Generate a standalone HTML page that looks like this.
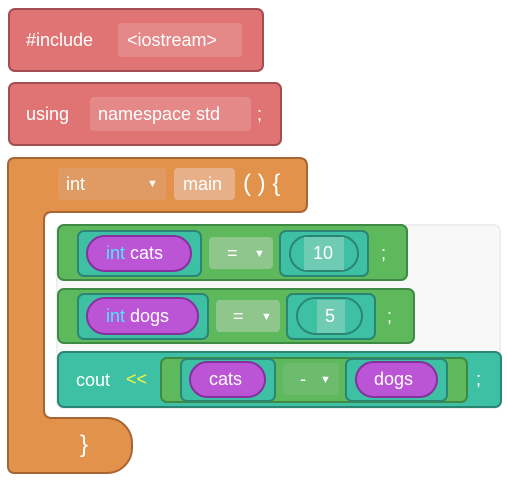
<!DOCTYPE html>
<html><head><meta charset="utf-8"><style>
body{margin:0;width:507px;height:480px;background:#fff;position:relative;overflow:hidden;font-family:"Liberation Sans",sans-serif;}
.b{position:absolute;box-sizing:border-box;}
.t{position:absolute;color:#fff;font-size:18px;line-height:20px;white-space:nowrap;}
.red{background:#e07474;border:2px solid #a24d4f;border-radius:7px;}
.rf{background:#e48888;border-radius:4px;}
.grn{background:#5db95c;border:2px solid #3e8a45;border-radius:7px;}
.tl{background:#3ec0a4;border:2px solid #2b8573;border-radius:7px;}
.pur{background:#bb55d6;border:2px solid #86309d;border-radius:20px;}
.dd{background:#8fc68c;border-radius:4px;}
.ov{border:2px solid #2b8573;border-radius:20px;}
</style></head><body>
<div class="b red" style="left:8px;top:8px;width:256px;height:64px;"></div>
<div class="t" style="left:26px;top:30px;">#include</div>
<div class="b rf" style="left:118px;top:23px;width:124px;height:34px;"></div>
<div class="t" style="left:127px;top:30px;">&lt;iostream&gt;</div>

<div class="b red" style="left:8px;top:82px;width:274px;height:64px;"></div>
<div class="t" style="left:26px;top:104px;">using</div>
<div class="b rf" style="left:90px;top:97px;width:161px;height:34px;"></div>
<div class="t" style="left:98px;top:104px;">namespace std</div>
<div class="t" style="left:257px;top:104px;">;</div>

<svg class="b" style="left:0;top:0" width="507" height="480">
<rect x="57" y="225" width="443" height="183" rx="6" fill="#f8f8f8" stroke="#eeeeee" stroke-width="2"/>
<path d="M15,158 H299 Q307,158 307,166 V204 Q307,212 299,212 H52 Q44,212 44,220 V410 Q44,418 52,418 H107 A25,25 0 0 1 132,443 V448 A25,25 0 0 1 107,473 H15 Q8,473 8,466 V165 Q8,158 15,158 Z" fill="#e2924a" stroke="#a66532" stroke-width="2"/>
</svg>
<div class="b" style="left:58px;top:168px;width:108px;height:32px;background:#e09a63;border-radius:4px;"></div>
<div class="t" style="left:66px;top:174px;">int</div>
<div class="t" style="left:147px;top:174px;font-size:11px;">▼</div>
<div class="b" style="left:174px;top:168px;width:61px;height:32px;background:#e8b088;border-radius:4px;"></div>
<div class="t" style="left:183px;top:174px;">main</div>
<div class="t" style="left:243px;top:171px;font-size:24px;line-height:26px;">( ) {</div>
<div class="t" style="left:80px;top:432px;font-size:24px;line-height:26px;">}</div>

<!-- row1 -->
<div class="b grn" style="left:57px;top:224px;width:351px;height:57px;"></div>
<div class="b tl" style="left:77px;top:230px;width:125px;height:47px;"></div>
<div class="b pur" style="left:86px;top:235px;width:106px;height:37px;"></div>
<div class="t" style="left:106px;top:243px;"><span style="color:#4ee6ff">int</span> cats</div>
<div class="b dd" style="left:209px;top:237px;width:64px;height:32px;"></div>
<div class="t" style="left:227px;top:243px;">=</div>
<div class="t" style="left:254px;top:244px;font-size:11px;">▼</div>
<div class="b tl" style="left:279px;top:230px;width:90px;height:47px;"></div>
<div class="b ov" style="left:289px;top:235px;width:70px;height:37px;"></div>
<div class="b" style="left:304px;top:237px;width:40px;height:33px;background:#70cbb5;"></div>
<div class="t" style="left:313px;top:243px;">10</div>
<div class="t" style="left:381px;top:243px;">;</div>

<!-- row2 -->
<div class="b grn" style="left:57px;top:288px;width:358px;height:56px;"></div>
<div class="b tl" style="left:77px;top:293px;width:132px;height:47px;"></div>
<div class="b pur" style="left:86px;top:297px;width:113px;height:38px;"></div>
<div class="t" style="left:106px;top:306px;"><span style="color:#4ee6ff">int</span> dogs</div>
<div class="b dd" style="left:216px;top:300px;width:64px;height:32px;"></div>
<div class="t" style="left:233px;top:306px;">=</div>
<div class="t" style="left:261px;top:307px;font-size:11px;">▼</div>
<div class="b tl" style="left:286px;top:293px;width:90px;height:47px;"></div>
<div class="b ov" style="left:296px;top:297px;width:67px;height:38px;"></div>
<div class="b" style="left:317px;top:300px;width:28px;height:33px;background:#70cbb5;"></div>
<div class="t" style="left:325px;top:306px;">5</div>
<div class="t" style="left:387px;top:306px;">;</div>

<!-- cout row -->
<div class="b tl" style="left:57px;top:351px;width:445px;height:57px;"></div>
<div class="t" style="left:76px;top:370px;">cout</div>
<div class="t" style="left:126px;top:369px;color:#f4f442;">&lt;&lt;</div>
<div class="b grn" style="left:160px;top:357px;width:308px;height:46px;"></div>
<div class="b tl" style="left:180px;top:358px;width:96px;height:44px;"></div>
<div class="b pur" style="left:189px;top:361px;width:77px;height:37px;"></div>
<div class="t" style="left:209px;top:369px;">cats</div>
<div class="b" style="left:283px;top:363px;width:56px;height:32px;background:#6dbb6c;border-radius:4px;"></div>
<div class="t" style="left:300px;top:369px;">-</div>
<div class="t" style="left:320px;top:370px;font-size:11px;">▼</div>
<div class="b tl" style="left:345px;top:358px;width:103px;height:44px;"></div>
<div class="b pur" style="left:355px;top:361px;width:83px;height:37px;"></div>
<div class="t" style="left:374px;top:369px;">dogs</div>
<div class="t" style="left:476px;top:369px;">;</div>
</body></html>
